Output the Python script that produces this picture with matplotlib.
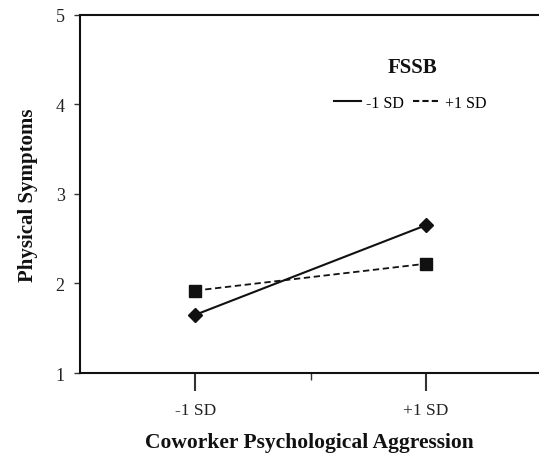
import matplotlib
matplotlib.use("Agg")
import matplotlib.pyplot as plt
from matplotlib.lines import Line2D
from matplotlib.ticker import FixedLocator

categories = ["-1 SD", "+1 SD"]
low_fssb = [1.65, 2.65]
high_fssb = [1.92, 2.22]
yticks = [1, 2, 3, 4, 5]

plt.rcParams['font.family'] = ['Liberation Serif', 'DejaVu Serif']

fig = plt.figure(figsize=(5.39, 4.56), dpi=100)
ax = fig.add_axes([0.1484, 0.1798, 0.8516, 0.7858])

x = list(range(len(categories)))
ax.plot(x, low_fssb, color="#111111", lw=1.5, ls="-", marker="D",
        ms=7, mfc="#111111", mec="#111111")
ax.plot(x, high_fssb, color="#111111", lw=1.3, ls=(0, (3.5, 2)), marker="s",
        ms=8, mfc="#111111", mec="#111111")

ax.set_xlim(-0.5, 1.49)
ax.set_ylim(1, 5)
ax.set_yticks(yticks)
ax.set_xticks(x)
ax.set_xticklabels(categories)
ax.xaxis.set_minor_locator(FixedLocator([0.5]))

for side in ["left", "top", "bottom"]:
    ax.spines[side].set_linewidth(1.5)
    ax.spines[side].set_color("#111111")
ax.spines["right"].set_visible(False)

ax.tick_params(axis="y", direction="out", length=4, width=1, labelsize=13,
               colors="#333333", pad=7)
ax.tick_params(axis="x", which="major", direction="out", length=13, width=1.5,
               labelsize=12.5, colors="#333333", pad=8)
ax.tick_params(axis="x", which="minor", direction="out", length=5, width=1,
               colors="#333333")
for lbl in ax.get_xticklabels() + ax.get_yticklabels():
    lbl.set_color("#222222")

ax.set_xlabel("Coworker Psychological Aggression", fontsize=15.5,
              fontweight="bold", labelpad=10, color="#111111")
ax.set_ylabel("Physical Symptoms", fontsize=15, fontweight="bold",
              labelpad=13, color="#111111")

ax.text(0.725, 0.854, "FSSB", transform=ax.transAxes, ha="center",
        va="center", fontsize=15, fontweight="bold", color="#111111")
handles = [Line2D([], [], color="#111111", lw=1.5, ls="-"),
           Line2D([], [], color="#111111", lw=1.5, ls=(0, (3, 1.5)))]
ax.legend(handles, categories, loc="center", bbox_to_anchor=(0.72, 0.754),
          ncol=2, frameon=False, fontsize=11.5, handlelength=1.7,
          handletextpad=0.3, columnspacing=0.6)

fig.savefig("out.png", dpi=100)
